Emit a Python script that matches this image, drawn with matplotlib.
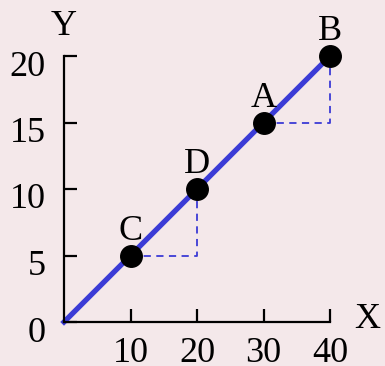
import matplotlib
matplotlib.use("Agg")
import matplotlib.pyplot as plt
import matplotlib.transforms as mtransforms

# line and labelled points
line_x = [0, 40]
line_y = [0, 20]
point_names = ["C", "D", "A", "B"]
point_x = [10, 20, 30, 40]
point_y = [5, 10, 15, 20]

# dashed step guides (C -> D, A -> B)
step1_x = [10, 20, 20]
step1_y = [5, 5, 10]
step2_x = [30, 40, 40]
step2_y = [15, 15, 20]

x_ticks = [10, 20, 30, 40]
y_ticks = [0, 5, 10, 15, 20]

plt.rcParams['font.family'] = ['Liberation Serif', 'DejaVu Serif']
blue = '#3b3bd6'
bg = '#f4e8ea'

fig = plt.figure(figsize=(3.85, 3.66), dpi=100, facecolor=bg)
ax = fig.add_axes([64 / 385, 44 / 366, 266 / 385, 266 / 366])
ax.set_facecolor(bg)

ax.plot(line_x, line_y, color=blue, lw=3.8, clip_on=False, zorder=2)
ax.plot(step1_x, step1_y, color=blue, lw=1.3, ls=(0, (4, 3)), clip_on=False, zorder=1)
ax.plot(step2_x, step2_y, color=blue, lw=1.3, ls=(0, (4, 3)), clip_on=False, zorder=1)
ax.plot(point_x, point_y, 'o', color='black', ms=15.5, clip_on=False, zorder=3)

for name, px, py in zip(point_names, point_x, point_y):
    ax.annotate(name, (px, py), xytext=(0, 11.5), textcoords='offset points',
                ha='center', va='baseline', fontsize=26)

ax.set_xlim(0, 40)
ax.set_ylim(0, 20)
ax.set_xticks(x_ticks)
ax.set_yticks(y_ticks)
ax.spines['top'].set_visible(False)
ax.spines['right'].set_visible(False)
for s in ['left', 'bottom']:
    ax.spines[s].set_linewidth(1.6)
ax.tick_params(direction='in', length=9.5, width=1.6, labelsize=26)
ax.tick_params(axis='y', pad=13)
ax.tick_params(axis='x', pad=11)

shift = mtransforms.ScaledTranslation(0, -7 / 100, fig.dpi_scale_trans)
for lab in ax.get_yticklabels():
    lab.set_transform(lab.get_transform() + shift)

ax.text(0, 22.2, "Y", ha='center', va='center', fontsize=26)
ax.text(45.6, 0.2, "X", ha='center', va='center', fontsize=26)

fig.savefig("out.png", dpi=100, facecolor=bg)
